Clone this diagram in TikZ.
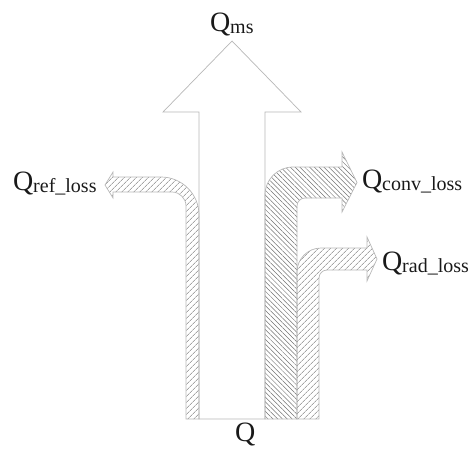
\documentclass[tikz,border=0pt]{standalone}
\usepackage{fontspec}
\setmainfont{Liberation Serif}
\usetikzlibrary{patterns.meta}

\tikzset{
  flowedge/.style={draw=black!28, line width=0.7pt, line join=miter},
  hatchfw/.style={pattern={Lines[angle=45,distance=4pt,line width=0.5pt]}, pattern color=black!55},
  hatchbw/.style={pattern={Lines[angle=-45,distance=3.4pt,line width=0.5pt]}, pattern color=black!55},
  lbl/.style={inner sep=0pt, outer sep=0pt, anchor=base west, text=black!90},
}
\newcommand{\qlabel}[1]{{\fontsize{28}{30}\selectfont Q}\raisebox{-2pt}{\fontsize{20}{22}\selectfont #1}}

\begin{document}
\begin{tikzpicture}[x=1pt, y=-1pt]
  \useasboundingbox (0,0) rectangle (470,449);

  % main heat flow arrow
  \path[flowedge, fill=white]
    (199,419) -- (199,112) -- (163,112) -- (232,41) -- (301,112)
    -- (265,112) -- (265,419) -- cycle;

  % reflection loss branch (left)
  \path[flowedge, hatchfw]
    (199,419) -- (199,215) .. controls (199,194) and (182,177) .. (161,177)
    -- (113,177) -- (113,172) -- (105,185) -- (113,198) -- (113,192)
    -- (172,192) .. controls (179.7,192) and (186,198.3) .. (186,206)
    -- (186,419) -- cycle;

  % convection loss branch
  \path[flowedge, hatchbw]
    (265,419) -- (265,195) .. controls (265,179.5) and (277.5,167) .. (293,167)
    -- (342,167) -- (342,152) -- (357,182.5) -- (342,212) -- (342,198)
    -- (305,198) .. controls (300.6,198) and (297,201.6) .. (297,206)
    -- (297,419) -- cycle;

  % radiation loss branch
  \path[flowedge, hatchfw]
    (297,419) -- (297,272) .. controls (297,258.8) and (307.8,248) .. (321,248)
    -- (367,248) -- (367,237) -- (377,259) -- (367,281) -- (367,270)
    -- (327,270) .. controls (322.6,270) and (319,273.6) .. (319,278)
    -- (319,419) -- cycle;

  % labels
  \node[lbl] (qms)   at (210,32)  {\qlabel{ms}};
  \node[lbl] (qref)  at (13,190)  {\qlabel{ref\_loss}};
  \node[lbl] (qconv) at (362,188) {\qlabel{conv\_loss}};
  \node[lbl] (qrad)  at (382,270) {\qlabel{rad\_loss}};
  \node[lbl] (qin)   at (235,441) {\fontsize{28}{30}\selectfont Q};
\end{tikzpicture}
\end{document}
